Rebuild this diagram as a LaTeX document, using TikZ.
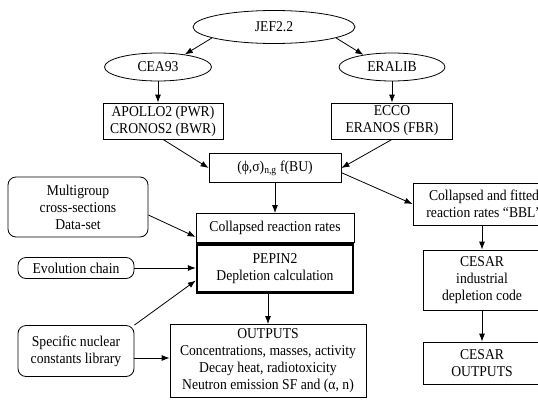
\documentclass[tikz,border=0pt]{standalone}
\usepackage{fontspec}
\setmainfont{Liberation Serif}[FakeStretch=0.91]
\usepackage{tikz}
\usetikzlibrary{arrows.meta,shapes.geometric}

\begin{document}
\begin{tikzpicture}[x=1pt, y=-1pt, font=\fontsize{15}{17}\selectfont, line width=0.8pt,
  box/.style={draw, align=center, inner sep=0pt},
  rbox/.style={box, rounded corners=8pt},
  oval/.style={draw, ellipse, inner sep=0pt},
  link/.style={-{Latex[length=8pt,width=6pt]}}]
  \useasboundingbox (0,0) rectangle (538,399);
  \clip (0,0) rectangle (538,399);
  \node[oval, minimum width=162pt, minimum height=33pt] (jef) at (274,27) {JEF2.2};
  \node[oval, minimum width=107pt, minimum height=28pt] (cea) at (158,67) {CEA93};
  \node[oval, minimum width=106pt, minimum height=28pt] (eralib) at (392,67) {ERALIB};
  \node[box, minimum width=120pt, minimum height=36pt] (apollo) at (163,121) {APOLLO2 (PWR)\\CRONOS2 (BWR)};
  \node[box, minimum width=121pt, minimum height=36pt] (ecco) at (392,121) {ECCO\\ERANOS (FBR)};
  \node[box, minimum width=132pt, minimum height=29pt] (phi) at (275,168) {(ϕ,σ)\textsubscript{n,g} f(BU)};
  \node[rbox, minimum width=140pt, minimum height=60pt] (multi) at (78,207) {Multigroup\\cross-sections\\Data-set};
  \node[box, minimum width=158pt, minimum height=29pt] (rates) at (275,228) {Collapsed reaction rates};
  \node[box, line width=2.4pt, minimum width=156pt, minimum height=48pt] (pepin) at (275,268.5) {PEPIN2\\Depletion calculation};
  \node[rbox, minimum width=116pt, minimum height=21pt] (evo) at (76,268) {Evolution chain};
  \node[rbox, minimum width=116pt, minimum height=51pt] (spec) at (76,351) {Specific nuclear\\constants library};
  \node[box, minimum width=196pt, minimum height=73pt] (outputs) at (268,361) {OUTPUTS\\Concentrations, masses, activity\\Decay heat, radiotoxicity\\Neutron emission SF and (α, n)};
  \node[box, minimum width=142pt, minimum height=42pt] (fitted) at (484,204) {Collapsed and fitted\\reaction rates “BBL”};
  \node[box, minimum width=118pt, minimum height=60pt] (cesar) at (482,280) {CESAR\\industrial\\depletion code};
  \node[box, minimum width=118pt, minimum height=42pt] (cesarout) at (482,363) {CESAR\\OUTPUTS};

  \draw[link] (jef.190) -- (cea.25);
  \draw[link] (jef.350) -- (eralib.157);
  \draw[link] (cea.south) -- (cea.south |- apollo.north);
  \draw[link] (eralib.south) -- (ecco.north);
  \draw[link] (apollo.south) -- (phi.west);
  \draw[link] (ecco.south) -- (phi.east);
  \draw[link] (phi.south) -- (rates.north);
  \draw[link] (phi.-4) -- (fitted.west);
  \draw[link] ([yshift=-8pt]multi.east) -- ([yshift=6pt]rates.south west);
  \draw[link] (evo.east) -- (pepin.west |- evo.east);
  \draw[link] (spec.north east) -- ([yshift=-12pt]pepin.west);
  \draw[link] ([yshift=3pt]spec.east |- outputs.west) -- ([yshift=3pt]outputs.west);
  \draw[link] (outputs.north |- pepin.south) -- (outputs.north);
  \draw[link] (fitted.south -| cesar.north) -- (cesar.north);
  \draw[link] (cesar.south) -- (cesarout.north);
\end{tikzpicture}
\end{document}
